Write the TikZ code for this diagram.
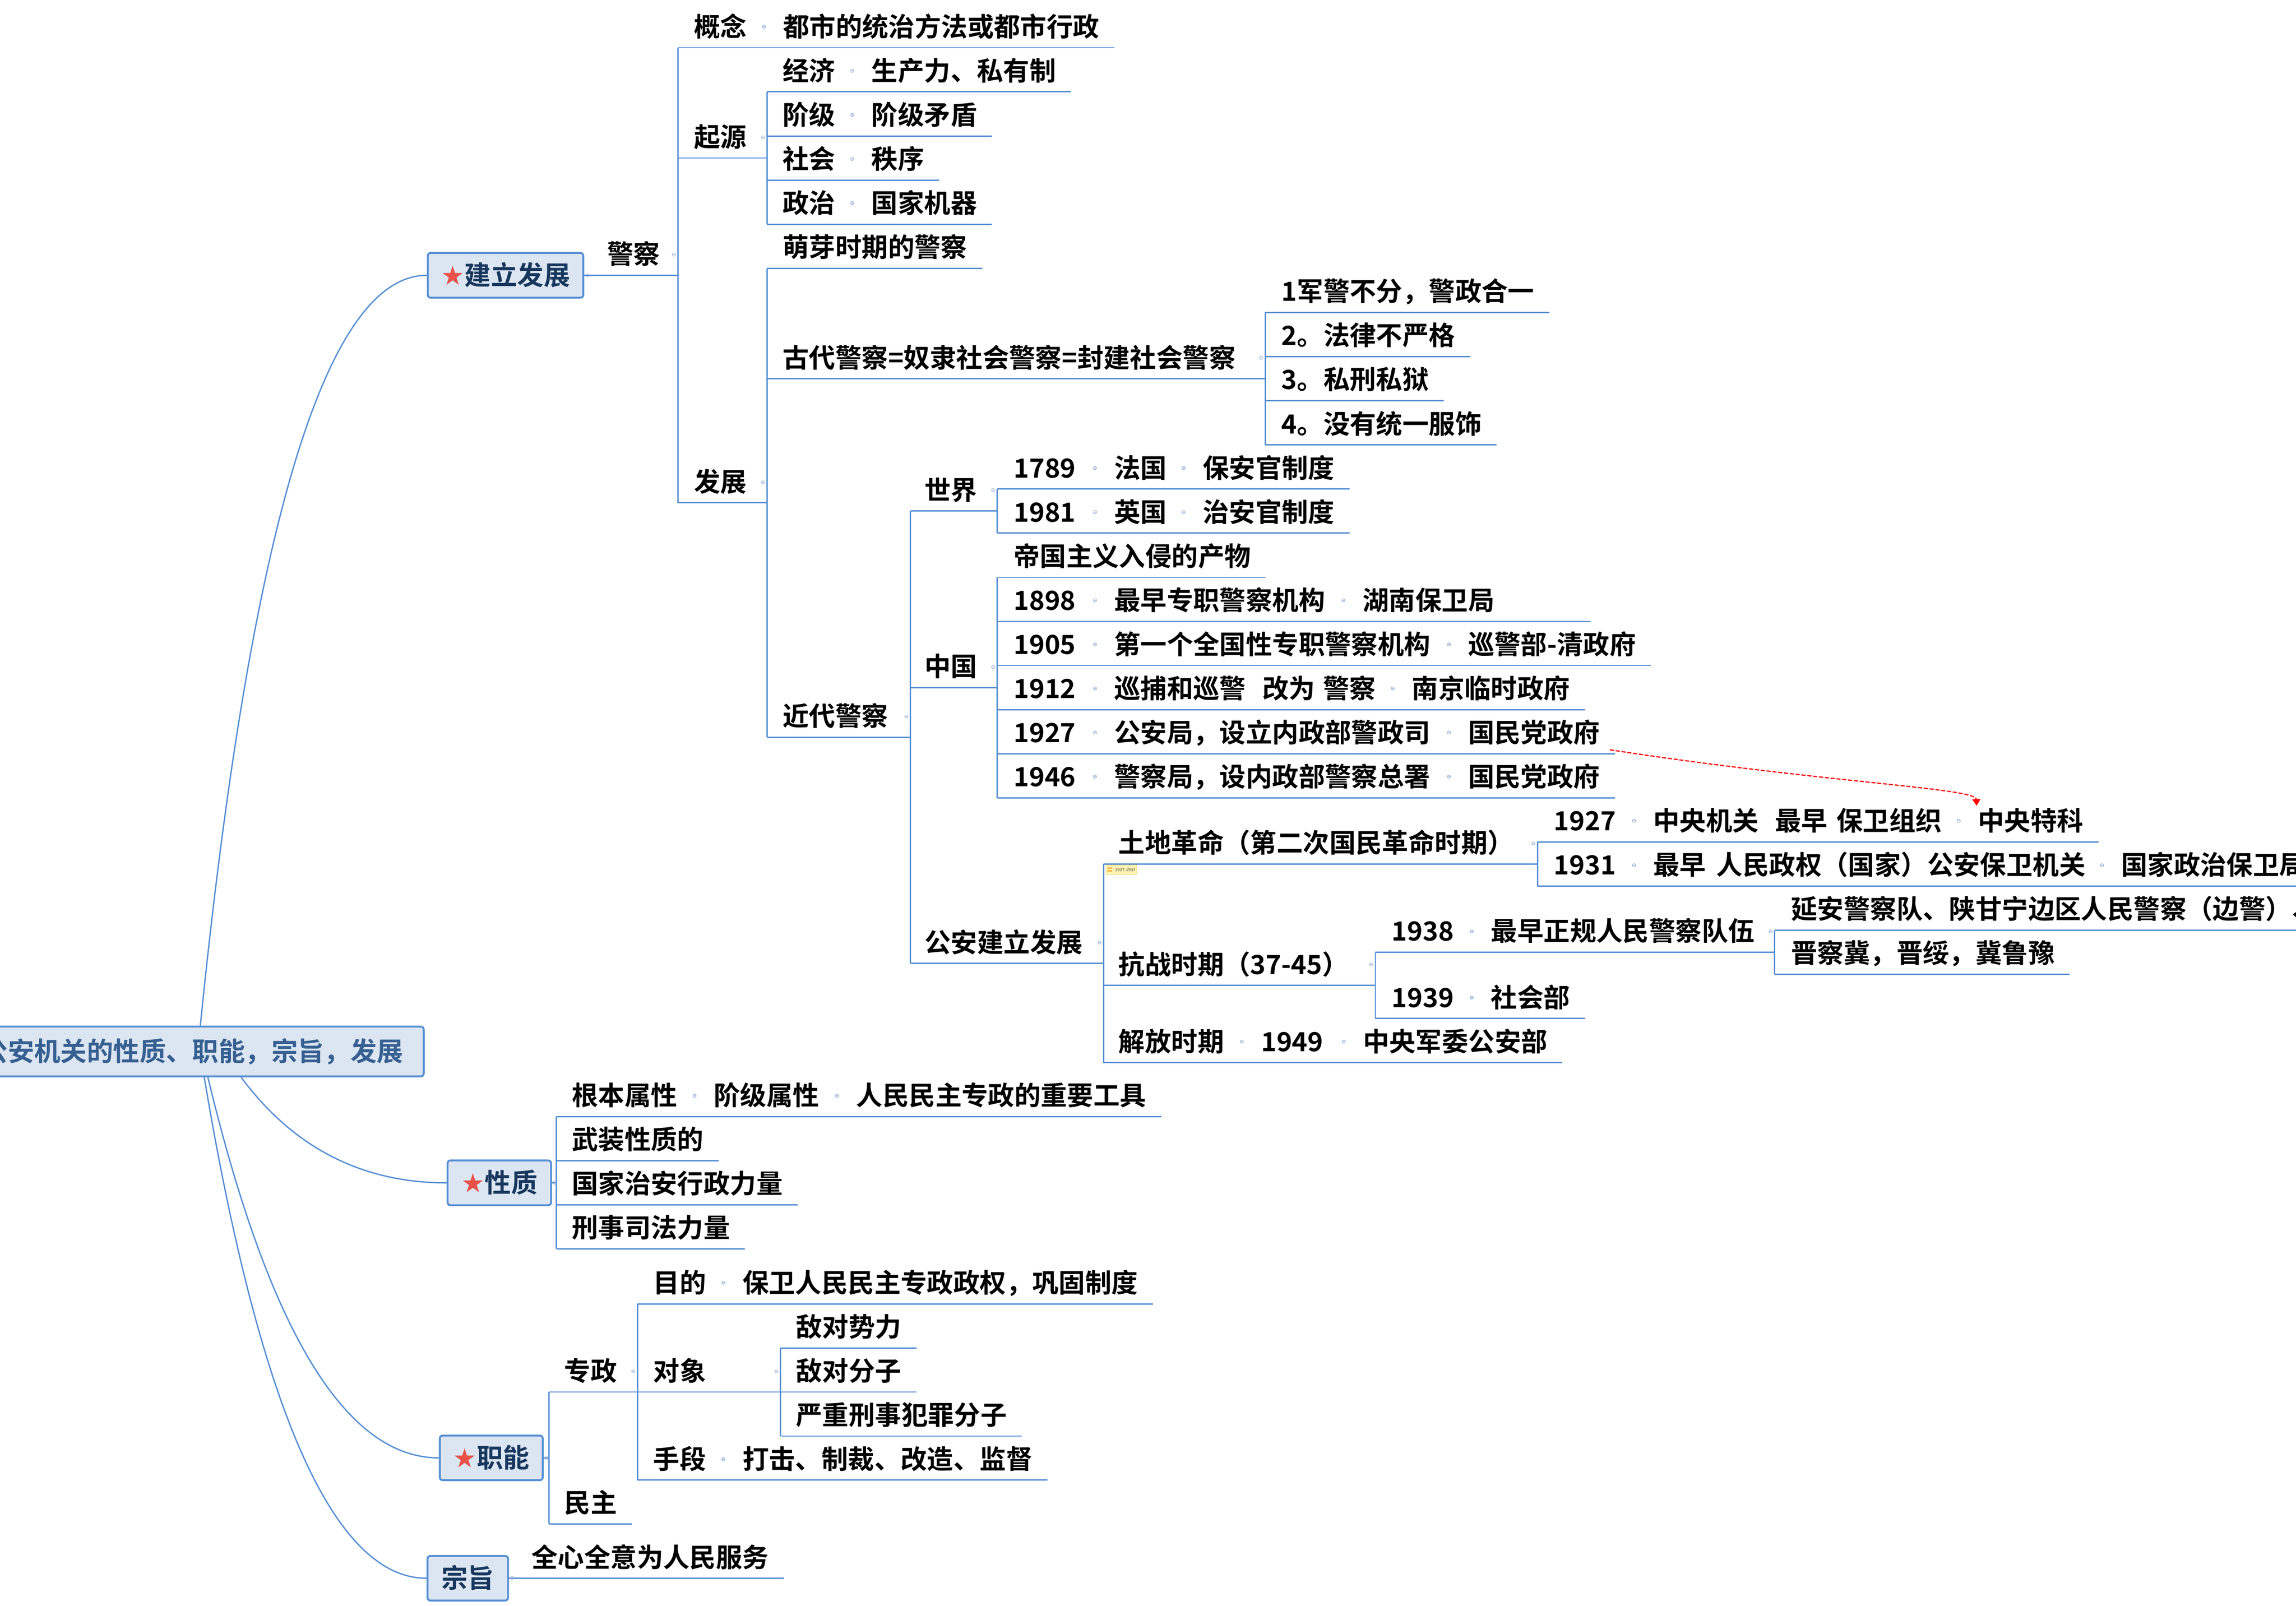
\documentclass[tikz,border=0pt]{standalone}
\usepackage{fontspec}
\setmainfont{Noto Sans CJK SC}[BoldFont={Noto Sans CJK SC Bold}]
\newfontfamily\dejavu{DejaVu Sans}
\usetikzlibrary{calc,arrows.meta}
\definecolor{lnc}{HTML}{558ED5}
\definecolor{boxf}{HTML}{DCE6F2}
\definecolor{roottxt}{HTML}{366092}
\definecolor{boxtxt}{HTML}{17375E}
\definecolor{starc}{HTML}{EA5249}
\definecolor{mkc}{HTML}{8AA6D2}
\definecolor{labf}{HTML}{FFF4B3}
\definecolor{labd}{HTML}{F4DA86}
\definecolor{labi}{HTML}{F8C25A}
\definecolor{labid}{HTML}{E8A43C}
\newcommand\mkg{\raisebox{5.3pt}{\dejavu\fontsize{3.8}{4}\selectfont\textcolor{mkc}{⊖}}}
\newcommand\prt[2]{\makebox[#1pt][l]{#2\hfill\mkg\hspace*{11.5pt}}}
\newcommand\starg{{\dejavu\fontsize{18}{20}\selectfont\textcolor{starc}{★}}}
\newcommand\Row[5]{\node[row] (#1) at (#2,#4) {\hspace*{#3pt}#5\hspace*{10pt}};}
\newcommand\ulin[1]{\draw[ln] (#1.south west) -- (#1.south east);}
\newcommand\pbar[3]{\draw[ln] (#1.south west) -- (#1.south west -| #2.south west);
  \draw[ln] (#2.south west) -- (#3.south west);
  \node[mkn] at ($(#1.south west -| #2.south west)+(-2.8,-14)$) {⊖};}
\tikzset{
  ln/.style={draw=lnc, line width=0.9pt},
  row/.style={anchor=south west, inner sep=0pt, text height=11pt, text depth=7.5pt,
    font=\fontsize{18}{22}\selectfont\bfseries},
  topbox/.style={draw=lnc, fill=boxf, line width=1.3pt, rounded corners=2pt, inner sep=0pt,
    anchor=west, font=\fontsize{18}{22}\selectfont\bfseries, text=boxtxt,
    text height=15pt, text depth=2pt},
  mkn/.style={inner sep=0pt, font=\dejavu\fontsize{3.8}{4}\selectfont, text=mkc},
}
\begin{document}
\begin{tikzpicture}[x=1pt,y=-1pt]
\fill[white] (0,0) rectangle (1568,1096.6);
\useasboundingbox (0,0) rectangle (1568,1096.6);

% ---------- top-level boxes ----------
\node[topbox, text=roottxt, anchor=east, minimum height=34pt, inner xsep=14pt] (root) at (290,718) {公安机关的性质、职能，宗旨，发展};
\node[topbox, minimum width=106.2pt, minimum height=30.6pt] (jl) at (291.5,188) {\starg 建立发展};
\node[topbox, minimum width=70.7pt, minimum height=30.6pt] (xz) at (305,807.7) {\starg 性质};
\node[topbox, minimum width=70.3pt, minimum height=30.5pt] (zn) at (299.7,995.5) {\starg 职能};
\node[topbox, minimum width=55pt, minimum height=30.5pt] (zq) at (291.3,1077.7) {宗旨};

% ---------- curves from root ----------
\draw[ln] ($(root.north east)+(-153.2,0)$) .. controls (171.2,359) and (222.8,188) .. (jl.west);
\draw[ln] ($(root.south east)+(-125.3,0)$) .. controls (200.2,783.5) and (247,807.7) .. (xz.west);
\draw[ln] ($(root.south east)+(-148,0)$) .. controls (183.5,908.7) and (236,995.5) .. (zn.west);
\draw[ln] ($(root.south east)+(-150.5,0)$) .. controls (177.6,963.5) and (228.2,1077.7) .. (zq.west);

% ---------- 建立发展 ----------
\node[row] (jc) at (jl.east) {\hspace*{15.5pt}警察\hspace*{10pt}};
\Row{gn}{463}{10.7}{32.6}{\prt{60.9}{概念}都市的统治方法或都市行政}
\Row{qy}{463}{10.7}{107.9}{起源}
\Row{jj}{523.8}{10.5}{62.7}{\prt{60.7}{经济}生产力、私有制}
\Row{jiej}{523.8}{10.5}{92.9}{\prt{60.7}{阶级}阶级矛盾}
\Row{sh}{523.8}{10.5}{123.0}{\prt{60.7}{社会}秩序}
\Row{zz}{523.8}{10.5}{153.1}{\prt{60.7}{政治}国家机器}
\Row{fz}{463}{10.7}{343.35}{发展}
\Row{my}{523.8}{10.5}{183.3}{萌芽时期的警察}
\Row{gd}{523.8}{10.5}{258.6}{古代警察=奴隶社会警察=封建社会警察}
\Row{gd1}{864}{11}{213.4}{1军警不分，警政合一}
\Row{gd2}{864}{11}{243.5}{2。法律不严格}
\Row{gd3}{864}{11}{273.6}{3。私刑私狱}
\Row{gd4}{864}{11}{303.8}{4。没有统一服饰}
\Row{jd}{523.8}{10.5}{503.4}{近代警察}
\Row{sj}{621.8}{9.4}{348.95}{世界}
\Row{w1}{681}{11}{333.9}{\prt{68.7}{1789}\prt{60.5}{法国}保安官制度}
\Row{w2}{681}{11}{364.0}{\prt{68.7}{1981}\prt{60.5}{英国}治安官制度}
\Row{zg}{621.8}{9.4}{469.5}{中国}
\Row{c0}{681}{11}{394.2}{帝国主义入侵的产物}
\Row{c1}{681}{11}{424.3}{\prt{68.7}{1898}\prt{169.7}{最早专职警察机构}湖南保卫局\hspace*{55.4pt}}
\Row{c2}{681}{11}{454.4}{\prt{68.7}{1905}\prt{241.7}{第一个全国性专职警察机构}巡警部-清政府}
\Row{c3}{681}{11}{484.6}{\prt{68.7}{1912}\prt{203.3}{\makebox[101.3pt][l]{巡捕和巡警}\makebox[41.3pt][l]{改为}警察}南京临时政府}
\Row{c4}{681}{11}{514.7}{\prt{68.7}{1927}\prt{241.7}{公安局，设立内政部警政司}国民党政府}
\Row{c5}{681}{11}{544.8}{\prt{68.7}{1946}\prt{241.7}{警察局，设内政部警察总署}国民党政府}
\Row{ga}{621.8}{9.4}{657.8}{公安建立发展}
\Row{td}{753.6}{10.1}{590}{土地革命（第二次国民革命时期）}
\Row{t1}{1050}{11}{574.9}{\prt{67.9}{1927}\prt{221.7}{\makebox[83.1pt][l]{中央机关}\makebox[42pt][l]{最早}保卫组织}中央特科}
\Row{t2}{1050}{11}{605.1}{\prt{67.9}{1931}\prt{319.5}{\makebox[43.1pt][l]{最早}人民政权（国家）公安保卫机关}国家政治保卫局}
\Row{kz}{753.6}{10.1}{672.9}{抗战时期（37-45）}
\Row{k1}{939.2}{11.1}{650.25}{\prt{67.7}{1938}最早正规人民警察队伍}
\Row{y1}{1212}{11}{635.2}{延安警察队、陕甘宁边区人民警察（边警）、}
\Row{y2}{1212}{11}{665.3}{晋察冀，晋绥，冀鲁豫}
\Row{k2}{939.2}{11.1}{695.5}{\prt{67.7}{1939}社会部}
\Row{jf}{753.6}{10.1}{725.6}{\prt{97.3}{解放时期}\prt{69.6}{1949}中央军委公安部}

\node[mkn] at ($(jl.east)+(2.3,0)$) {⊖};
\pbar{jc}{gn}{fz}
\pbar{qy}{jj}{zz}
\pbar{fz}{my}{jd}
\pbar{gd}{gd1}{gd4}
\pbar{jd}{sj}{ga}
\pbar{sj}{w1}{w2}
\pbar{zg}{c0}{c5}
\pbar{ga}{td}{jf}
\pbar{td}{t1}{t2}
\pbar{kz}{k1}{k2}
\pbar{k1}{y1}{y2}
\foreach \n in {gn,jj,jiej,sh,zz,my,gd1,gd2,gd3,gd4,w1,w2,c0,c1,c2,c3,c4,c5,t1,t2,y1,y2,k2,jf}{\ulin{\n}}

% note label
\node[draw=labd, fill=labf, line width=0.25pt, inner sep=0pt, minimum width=21.2pt, minimum height=6.4pt, anchor=north west] (lab) at ($(td.south west)+(1.4,0.6)$) {};
\filldraw[fill=labi, draw=labid, line width=0.15pt, rounded corners=0.3pt] ($(lab.west)+(1.3,-1.6)$) rectangle ++(3.2,1.0);
\filldraw[fill=labi, draw=labid, line width=0.15pt, rounded corners=0.3pt] ($(lab.west)+(1.3,0.3)$) rectangle ++(3.2,1.1);
\node[anchor=west, inner sep=0pt, font=\fontsize{2.9}{3}\selectfont, text=black!75] (labt) at ($(lab.west)+(6.3,0.2)$) {1927-1937};

% relation arrow
\coordinate (arS) at ($(c4.south east)+(-3.4,-2.7)$);
\coordinate (arE) at (1349.8,550.2);
\draw[red, line width=0.8pt, dash pattern=on 2.8pt off 1.2pt, -{Triangle[width=5.5pt,length=4.5pt]}] (arS) .. controls (1250,535) and (1349.5,538) .. (arE);

% ---------- 性质 ----------
\Row{x1}{380}{10.3}{762.5}{\prt{97}{根本属性}\prt{97.3}{阶级属性}人民民主专政的重要工具}
\Row{x2}{380}{10.3}{792.6}{武装性质的}
\Row{x3}{380}{10.3}{822.7}{国家治安行政力量}
\Row{x4}{380}{10.3}{852.8}{刑事司法力量}
\draw[ln] (xz.east) -- (xz.east -| x1.south west);
\draw[ln] (x1.south west) -- (x4.south west);
\node[mkn] at ($(xz.east)+(1.7,0)$) {⊖};
\foreach \n in {x1,x2,x3,x4}{\ulin{\n}}

% ---------- 职能 ----------
\Row{zhz}{375}{10.2}{950.5}{专政}
\Row{md}{435.3}{10.7}{890.4}{\prt{60.9}{目的}保卫人民民主专政政权，巩固制度}
\Row{dx}{435.3}{10.7}{950.5}{对象}
\Row{d1}{533}{10.4}{920.5}{敌对势力}
\Row{d2}{533}{10.4}{950.5}{敌对分子}
\Row{d3}{533}{10.4}{980.6}{严重刑事犯罪分子}
\Row{sd}{435.3}{10.7}{1010.6}{\prt{60.9}{手段}打击、制裁、改造、监督}
\Row{mz}{375}{10.2}{1040.6}{民主}
\draw[ln] (zn.east) -- (zn.east -| zhz.south west);
\draw[ln] (zhz.south west) -- (mz.south west);
\node[mkn] at ($(zn.east)+(2,0)$) {⊖};
\pbar{zhz}{md}{sd}
\pbar{dx}{d1}{d3}
\foreach \n in {md,d1,d2,d3,sd,mz}{\ulin{\n}}

% ---------- 宗旨 ----------
\node[row] (zq1) at (zq.east) {\hspace*{15.2pt}全心全意为人民服务\hspace*{10pt}};
\ulin{zq1}
\node[mkn] at ($(zq.east)+(2.1,0)$) {⊖};
\end{tikzpicture}
\end{document}
